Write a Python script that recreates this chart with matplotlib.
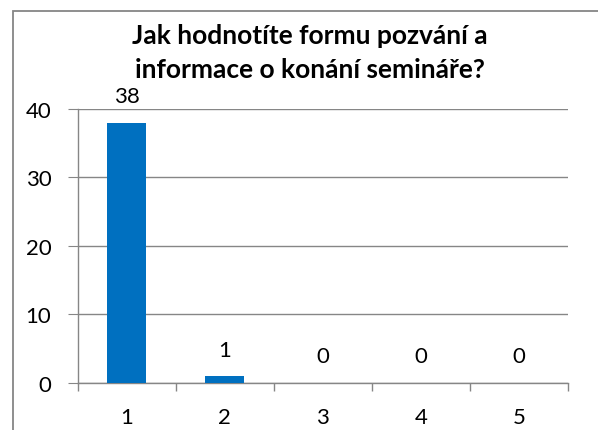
import matplotlib
matplotlib.use("Agg")
import matplotlib.pyplot as plt
from matplotlib.patches import Rectangle

# ratings and how many answered each
categories = ["1", "2", "3", "4", "5"]
counts = [38, 1, 0, 0, 0]
title = "Jak hodnotíte formu pozvání a\ninformace o konání semináře?"

plt.rcParams['font.family'] = ['Lato', 'DejaVu Sans']

fig = plt.figure(figsize=(5.98, 4.31), dpi=100)
ax = fig.add_axes([0.130, 0.109, 0.820, 0.636])

# chart border, cropped on the right and bottom like the original
fig.patches.append(Rectangle((13/598, -0.1), 1.2, 1 - 12/431 + 0.1,
                             transform=fig.transFigure, fill=False,
                             edgecolor="#868686", linewidth=1.3))

x = list(range(len(categories)))
bars = ax.bar(x, counts, width=0.4, color="#0070C0", zorder=3)
for b, v in zip(bars, counts):
    ax.annotate(str(v), (b.get_x() + b.get_width()/2, v),
                xytext=(0, 12), textcoords="offset points",
                ha="center", va="bottom", fontsize=16)

ax.set_xlim(-0.5, len(categories) - 0.5)
ax.set_ylim(0, 40)
ax.set_yticks([0, 10, 20, 30, 40])
ax.yaxis.grid(True, color="#868686", linewidth=1)
ax.set_axisbelow(True)

ax.set_xticks(x)
ax.set_xticklabels(categories, fontsize=16)
ax.set_xticks([i - 0.5 for i in range(len(categories) + 1)], minor=True)
ax.tick_params(axis="x", which="major", length=0, pad=17)
ax.tick_params(axis="x", which="minor", length=6, color="#868686", width=1)
ax.tick_params(axis="y", labelsize=16, length=7, color="#868686", pad=12)

for s in ["top", "right"]:
    ax.spines[s].set_visible(False)
for s in ["left", "bottom"]:
    ax.spines[s].set_color("#868686")
    ax.spines[s].set_linewidth(1)

fig.text(0.518, 0.877, title, ha="center", va="center", fontsize=19,
         fontweight="bold", linespacing=1.5)

fig.savefig("out.png", dpi=100)
